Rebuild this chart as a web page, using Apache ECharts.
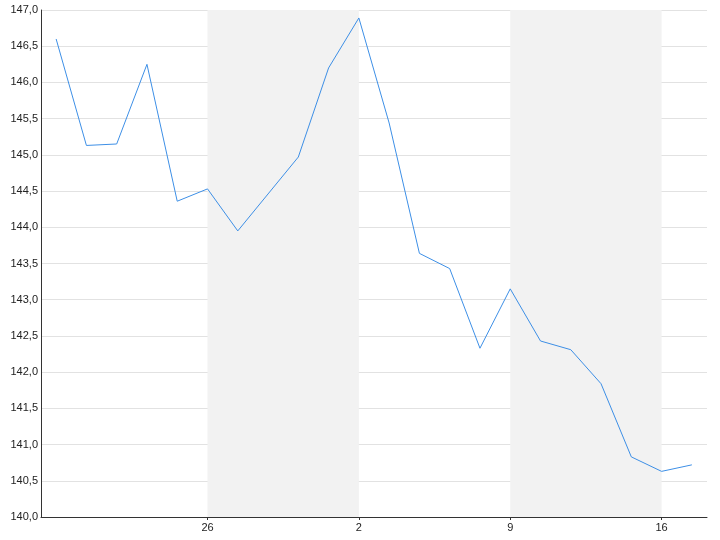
<!DOCTYPE html>
<html>
<head>
<meta charset="utf-8">
<script src="https://cdn.jsdelivr.net/npm/echarts@6/dist/echarts.min.js"></script>
<style>html,body{margin:0;padding:0;background:#fff}#c{width:720px;height:540px}</style>
</head>
<body>
<div id="c"></div>
<script>
const categories = ['19','20','21','22','23','26','27','28','29','30','2','3','4','5','6','9','10','11','12','13','16','17'];
const values = [146.60,145.13,145.15,146.25,144.36,144.53,143.95,144.46,144.97,146.20,146.89,145.44,143.64,143.43,142.33,143.15,142.43,142.31,141.84,140.83,140.63,140.72];
const labelIndices = [5,10,15,20];
const shadedRanges = [['26','2'],['9','16']];
const yTicks = {min:140, max:147, interval:0.5};

const chart = echarts.init(document.getElementById('c'));
chart.setOption({
  animation:false,
  grid:{left:41,right:13,top:10,bottom:23},
  xAxis:{
    type:'category', data:categories, boundaryGap:true,
    axisLine:{lineStyle:{color:'#333',width:1}},
    axisTick:{show:true, alignWithLabel:true, length:3, interval:(i)=>labelIndices.includes(i), lineStyle:{color:'#333'}},
    axisLabel:{interval:(i)=>labelIndices.includes(i), color:'#222', fontSize:11, fontFamily:'Liberation Sans', margin:5},
    splitLine:{show:false}
  },
  yAxis:{
    type:'value', min:yTicks.min, max:yTicks.max, interval:yTicks.interval,
    axisLine:{show:true, lineStyle:{color:'#333',width:1}},
    axisTick:{show:false},
    axisLabel:{color:'#222', fontSize:11, fontFamily:'Liberation Sans', margin:3, formatter:(v)=>v.toFixed(1).replace('.',',')},
    splitLine:{lineStyle:{color:'#e2e2e2',width:1}}
  },
  series:[{
    type:'line', data:values, symbol:'none', smooth:false,
    lineStyle:{color:'#3d8fe6',width:1},
    markArea:{silent:true, itemStyle:{color:'#f2f2f2'},
      data: shadedRanges.map(r=>[{xAxis:r[0]},{xAxis:r[1]}])}
  }]
});
</script>
</body>
</html>
